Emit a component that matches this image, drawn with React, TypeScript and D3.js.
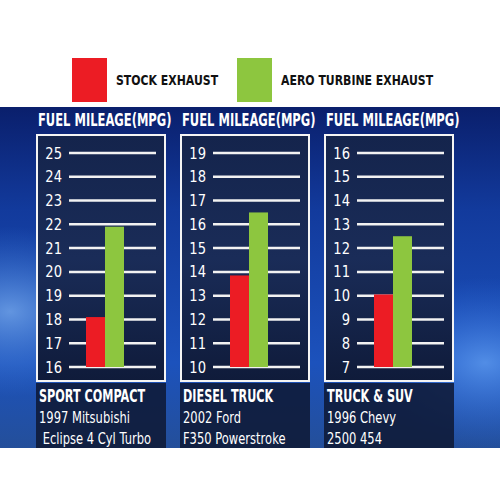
import React from "react";
import * as d3 from "d3";

const series = ["STOCK EXHAUST", "AERO TURBINE EXHAUST"];
const seriesColors = ["#ec1c24", "#8dc63f"];
const panelTitles = ["FUEL MILEAGE(MPG)", "FUEL MILEAGE(MPG)", "FUEL MILEAGE(MPG)"];
const axisMins = [16, 10, 7];
const axisMaxs = [25, 19, 16];
const stockValues = [18.1, 13.85, 10.05];
const aeroValues = [21.9, 16.5, 12.5];
const categoryNames = ["SPORT COMPACT", "DIESEL TRUCK", "TRUCK & SUV"];
const vehicleLine1 = ["1997 Mitsubishi", "2002 Ford", "1996 Chevy"];
const vehicleLine2 = [" Eclipse 4 Cyl Turbo", "F350 Powerstroke", "2500 454"];

const FONT = "'DejaVu Sans', sans-serif";

function T(props: {
  x: number;
  y: number;
  sx: number;
  size: number;
  bold?: boolean;
  fill: string;
  anchor?: string;
  children: React.ReactNode;
}) {
  return (
    <text
      transform={`translate(${props.x},${props.y}) scale(${props.sx},1)`}
      fontFamily={FONT}
      fontWeight={props.bold ? "bold" : "normal"}
      fontSize={props.size}
      fill={props.fill}
      textAnchor={props.anchor || "start"}
      style={{ whiteSpace: "pre" }}
    >
      {props.children}
    </text>
  );
}

export default function App() {
  const W = 500;
  const H = 500;
  const bandTop = 107;
  const bandBottom = 448;
  const panelX = d3.scaleBand<number>().domain([0, 1, 2]).range([37, 453]).paddingInner(16 / 144).paddingOuter(0);
  const boxW = panelX.bandwidth();
  const boxTop = 135;
  const boxBottom = 381;
  const yRange: [number, number] = [367, 153];

  return (
    <svg width={W} height={H} style={{ position: "absolute", left: 0, top: 0, background: "#fff" }}>
      <defs>
        <linearGradient id="bg" x1="0" y1="0" x2="0" y2="1">
          <stop offset="0" stopColor="#0a1f6c" />
          <stop offset="0.3" stopColor="#123a9c" />
          <stop offset="0.75" stopColor="#1c52bc" />
          <stop offset="1" stopColor="#244f9a" />
        </linearGradient>
        <radialGradient id="glowL" cx="0.02" cy="0.6" r="0.25">
          <stop offset="0" stopColor="#6fa2e8" stopOpacity="0.85" />
          <stop offset="1" stopColor="#3a78d8" stopOpacity="0" />
        </radialGradient>
        <radialGradient id="glowR" cx="0.97" cy="0.75" r="0.25">
          <stop offset="0" stopColor="#5f9cf0" stopOpacity="0.8" />
          <stop offset="1" stopColor="#2f6ee0" stopOpacity="0" />
        </radialGradient>
        <linearGradient id="panel" x1="0" y1="0" x2="0" y2="1">
          <stop offset="0" stopColor="#14244c" />
          <stop offset="0.5" stopColor="#1a2c58" />
          <stop offset="1" stopColor="#0f1b3a" />
        </linearGradient>
      </defs>

      {/* Legend */}
      {series.map((s, i) => {
        const lx = [72, 237][i];
        return (
          <g key={s}>
            <rect x={lx} y={58} width={35} height={44} fill={seriesColors[i]} />
            <T x={lx + 44} y={85} sx={0.78} size={14} bold fill="#111">
              {s}
            </T>
          </g>
        );
      })}

      {/* Blue band */}
      <rect x={0} y={bandTop} width={W} height={bandBottom - bandTop} fill="url(#bg)" />
      <rect x={0} y={bandTop} width={W} height={bandBottom - bandTop} fill="url(#glowL)" />
      <rect x={0} y={bandTop} width={W} height={bandBottom - bandTop} fill="url(#glowR)" />

      {[0, 1, 2].map((i) => {
        const x0 = panelX(i)!;
        const y = d3.scaleLinear().domain([axisMins[i], axisMaxs[i]]).range(yRange);
        const ticks = d3.range(axisMins[i], axisMaxs[i] + 1);
        const gridX0 = x0 + 32;
        const gridX1 = x0 + 119;
        const xb = d3.scaleBand<string>().domain(series).range([gridX0 + 17, gridX0 + 55]).padding(0);
        const vals = [stockValues[i], aeroValues[i]];
        return (
          <g key={i}>
            <T x={x0 + 1} y={126} sx={0.64} size={18} bold fill="#fff">
              {panelTitles[i]}
            </T>
            <rect x={x0} y={boxTop} width={boxW} height={boxBottom - boxTop} fill="url(#panel)" stroke="#f4f4f4" strokeWidth={2} />
            {ticks.map((t) => (
              <g key={t}>
                <line x1={gridX0} x2={gridX1} y1={y(t)} y2={y(t)} stroke="#f2f2f2" strokeWidth={2.5} />
                <T x={x0 + 25} y={y(t) + 5.5} sx={0.82} size={16} fill="#fff" anchor="end">
                  {t}
                </T>
              </g>
            ))}
            {series.map((s, j) => (
              <rect
                key={s}
                x={xb(s)!}
                y={y(vals[j])}
                width={xb.bandwidth()}
                height={y(axisMins[i]) - y(vals[j])}
                fill={seriesColors[j]}
              />
            ))}
            <rect x={x0 - 1} y={383} width={boxW + 2} height={bandBottom - 383} fill="#0e1733" opacity={0.85} />
            <T x={x0 + 2} y={402} sx={0.66} size={17} bold fill="#fff">
              {categoryNames[i]}
            </T>
            <T x={x0 + 2} y={423} sx={0.72} size={16} fill="#fff">
              {vehicleLine1[i]}
            </T>
            <T x={x0 + 2} y={444} sx={0.72} size={16} fill="#fff">
              {vehicleLine2[i]}
            </T>
          </g>
        );
      })}
    </svg>
  );
}
